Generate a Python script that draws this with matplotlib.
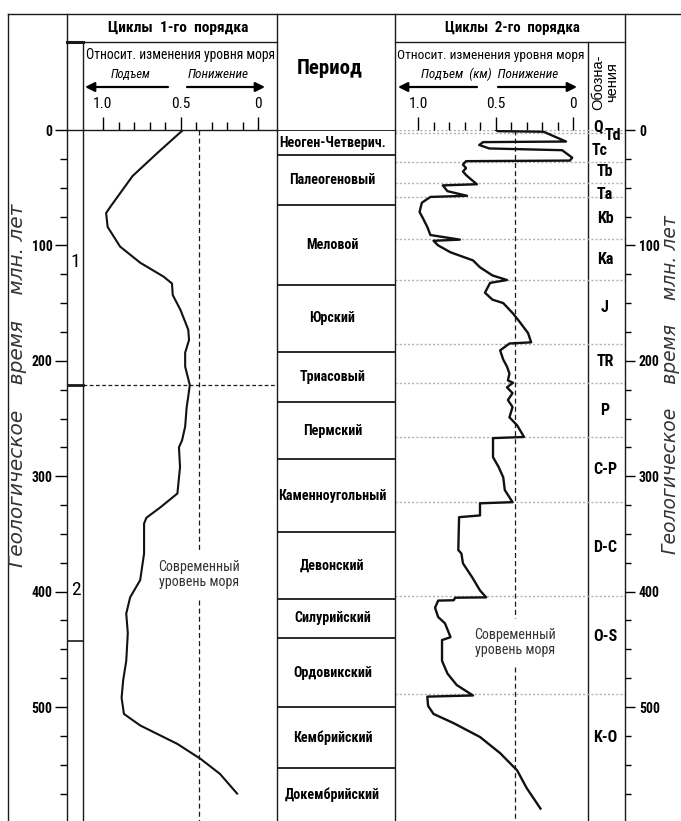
import matplotlib
matplotlib.use("Agg")
import matplotlib.pyplot as plt
import numpy as np

plt.rcParams['font.family'] = ['Roboto Condensed', 'DejaVu Sans']

# ---- data ----
# cycles of the 1st order: age (Ma) and relative sea level change
age_1 = [0, 20, 40, 67, 72, 84, 101, 115, 127, 133, 143, 156, 173, 182, 193, 205,
         221, 231, 240, 257, 269, 275, 292, 315, 327, 336, 341, 367, 390, 405, 419,
         436, 460, 477, 492, 506, 516, 532, 545, 558, 575]
level_1 = [0.484, 0.65, 0.81, 0.955, 0.98, 0.97, 0.89, 0.76, 0.61, 0.555, 0.55, 0.50,
           0.45, 0.445, 0.47, 0.47, 0.44, 0.45, 0.46, 0.47, 0.49, 0.51, 0.503, 0.52,
           0.63, 0.72, 0.735, 0.735, 0.76, 0.825, 0.85, 0.84, 0.85, 0.87, 0.88, 0.865,
           0.76, 0.52, 0.37, 0.245, 0.135]

# cycles of the 2nd order
age_2 = [0, 1, 1.5, 10, 10.5, 13, 16, 17.5, 24, 26.5, 27, 30, 33, 36, 39, 42, 47, 48,
         53, 57, 58, 63, 71, 76, 84, 91, 95, 96, 100, 106, 113, 119, 126, 130, 132.5,
         141, 147, 150, 159, 167, 176, 184, 185, 191, 199, 205, 211, 217, 219, 223,
         228, 234, 240, 249, 256, 266, 267, 283.5, 292, 301, 312, 322.5, 323.5, 334,
         335.5, 364, 367, 375.5, 387.7, 399, 405, 405.3, 407.5, 407.8, 414, 422, 427.5,
         439.5, 442, 460, 471, 481, 490, 491, 499, 506, 514, 526, 540, 555, 570, 588]
level_2 = [0.497, 0.485, 0.19, 0.045, 0.58, 0.605, 0.54, 0.07, 0.005, 0.02, 0.69, 0.71,
           0.69, 0.71, 0.69, 0.665, 0.62, 0.84, 0.81, 0.684, 0.92, 0.975, 0.99, 0.97,
           0.94, 0.92, 0.73, 0.90, 0.87, 0.79, 0.645, 0.60, 0.52, 0.426, 0.535, 0.568,
           0.52, 0.45, 0.387, 0.34, 0.29, 0.27, 0.41, 0.47, 0.45, 0.426, 0.41, 0.42,
           0.387, 0.426, 0.39, 0.42, 0.39, 0.41, 0.36, 0.316, 0.516, 0.516, 0.48, 0.45,
           0.44, 0.39, 0.60, 0.60, 0.735, 0.74, 0.72, 0.71, 0.65, 0.60, 0.56, 0.76,
           0.77, 0.87, 0.89, 0.87, 0.826, 0.79, 0.845, 0.845, 0.81, 0.75, 0.645, 0.94,
           0.935, 0.90, 0.77, 0.60, 0.47, 0.36, 0.30, 0.21]

periods = ["Неоген-Четверич.", "Палеогеновый", "Меловой", "Юрский", "Триасовый",
           "Пермский", "Каменноугольный", "Девонский", "Силурийский", "Ордовикский",
           "Кембрийский", "Докембрийский"]
period_bounds = [0, 21.7, 65, 134, 192.5, 236, 285, 348.6, 406, 440.6, 500, 553]

seq_codes = ["Q", "Td", "Tc", "Tb", "Ta", "Kb", "Ka", "J", "TR", "P", "C-P", "D-C", "O-S", "K-O"]
seq_code_age = [-2.6, 5, 18, 36, 55.5, 77, 112, 153.6, 201, 243, 294.6, 362, 438.5, 526]
seq_bounds = [0, 3, 27.8, 46, 58, 94.5, 130, 185.6, 219, 266, 322.6, 404, 489]

cycle1_names = ["1", "2"]
cycle1_name_age = [114, 398.6]
cycle1_bounds = [221, 443]

modern_level_1 = 0.38
modern_level_2 = 0.375

# ---- layout (pixels) ----
W, H = 681, 821
PX_MA = 1.154
T_BOT = (H - 130) / PX_MA


def rect(x0, y0, x1, y1):
    return [x0 / W, 1 - y1 / H, (x1 - x0) / W, (y1 - y0) / H]


def v1(x):
    return (258 - x) / 155.0


def v2(x):
    return (573 - x) / 155.0


fig = plt.figure(figsize=(W / 100, H / 100), dpi=100)
renderer = fig.canvas.get_renderer()


def fit(t, width_px, max_pt=30, vertical=False):
    bb = t.get_window_extent(renderer)
    w = bb.height if vertical else bb.width
    t.set_fontsize(min(max_pt, t.get_fontsize() * width_px / w))
    return t.get_fontsize()


frame = fig.add_axes([0, 0, 1, 1])
frame.set_xlim(0, W)
frame.set_ylim(H, 0)
frame.axis('off')

lc = '#1a1a1a'
frame_lines = [((8, 681), (14, 14)), ((8, 8), (14, H)), ((67, 67), (14, 130)),
               ((83, 83), (42, H)), ((67, 277), (42, 42)), ((277, 277), (14, 130)),
               ((395, 395), (14, 130)), ((395, 625), (42, 42)), ((588, 588), (42, H)),
               ((625, 625), (14, 130))]
for xs, ys in frame_lines:
    frame.plot(xs, ys, color=lc, lw=1.0)
frame.plot([67, 83], [42, 42], color=lc, lw=2.2)

# headers
fit(frame.text(178, 28, "Циклы  1-го  порядка", ha='center', va='center', fontsize=11, fontweight='bold'), 140, 12)
fit(frame.text(512, 28, "Циклы  2-го  порядка", ha='center', va='center', fontsize=11, fontweight='bold'), 135, 12)
fit(frame.text(330, 69, "Период", ha='center', va='center', fontsize=14, fontweight='bold'), 66, 15)
fit(frame.text(180, 55, "Относит. изменения уровня моря", ha='center', va='center', fontsize=11), 191, 12)
fit(frame.text(491, 55, "Относит. изменения уровня моря", ha='center', va='center', fontsize=11), 187, 12)
fit(frame.text(131, 74, "Подъем", ha='center', va='center', fontsize=9.5, style='italic'), 40, 10.5)
fit(frame.text(218, 74, "Понижение", ha='center', va='center', fontsize=9.5, style='italic'), 61, 10.5)
fit(frame.text(490, 74, "Подъем  (км)  Понижение", ha='center', va='center', fontsize=9.5, style='italic'), 137, 10.5)
fit(frame.text(605, 82, "Обозна-\nчения", ha='center', va='center', fontsize=10, rotation=90,
               family=['Liberation Sans', 'DejaVu Sans'], linespacing=0.95), 78, 10.5, vertical=True)

arrows = [((168, 87), (85, 87)), ((187, 87), (265, 87)),
          ((477, 87), (398, 87)), ((498, 87), (577, 87))]
for start, end in arrows:
    frame.annotate('', xy=end, xytext=start,
                   arrowprops=dict(arrowstyle='-|>', color='k', lw=1.6,
                                   mutation_scale=14, shrinkA=0, shrinkB=0))

for x, mx in ((18, 14.5), (671, 13.5)):
    fit(frame.text(x, 385, "Геологическое    время    млн. лет", rotation=90, ha='center', va='center',
                   fontsize=12.5, style='italic', color='#333333', family=['DejaVu Sans']),
        388, max_pt=mx, vertical=True)

# font sizes for tick labels and period names, fitted on sample strings
p = frame.text(0, 0, "100", fontsize=10, fontweight='bold')
tick_pt = fit(p, 21, 12.5)
p.remove()
p = frame.text(0, 0, "1.0", fontsize=10)
top_pt = fit(p, 19, 12.5)
p.remove()
p = frame.text(0, 0, "Каменноугольный", fontsize=10, fontweight='bold')
per_pt = fit(p, 108, 11.5)
p.remove()
p = frame.text(0, 0, "C-P", fontsize=10, fontweight='bold')
code_pt = fit(p, 24, 12.5)
p.remove()
p = frame.text(0, 0, "Современный", fontsize=10)
sea_pt = fit(p, 82, 12)
p.remove()

# ---- left panel: 1st order cycles ----
axL = fig.add_axes(rect(67, 130, 277, H))
axL.patch.set_alpha(0)
axL.set_xlim(v1(67), v1(277))
axL.set_ylim(T_BOT, 0)
axL.spines['bottom'].set_visible(False)
for s in axL.spines.values():
    s.set_linewidth(1.0)
    s.set_color(lc)
axL.plot(level_1, age_1, color='#111111', lw=1.5)
axL.set_yticks(np.arange(0, 501, 100), [str(t) for t in range(0, 501, 100)],
               fontweight='bold', fontsize=tick_pt)
axL.set_yticks(np.arange(0, 600, 25), minor=True)
axL.tick_params(axis='y', which='major', direction='out', length=8.5, width=1.0, pad=2)
axL.tick_params(axis='y', which='minor', direction='out', length=5, width=1.0)
axL.xaxis.tick_top()
axL.set_xticks([1.0, 0.5, 0.0], ["1.0", "0.5", "0"], fontsize=top_pt)
axL.set_xticks(np.arange(0, 1.01, 0.1), minor=True)
axL.tick_params(axis='x', which='major', direction='out', length=9.5, width=1.0, pad=4)
axL.tick_params(axis='x', which='minor', direction='out', length=5.8, width=1.0)

# modern sea level
axL.plot([modern_level_1] * 2, [0, 364], color=lc, lw=0.9, ls=(0, (4, 2.5)))
axL.plot([modern_level_1] * 2, [407, T_BOT], color=lc, lw=0.9, ls=(0, (4, 2.5)))
axL.text(modern_level_1, 385, "Современный\nуровень моря", ha='center', va='center',
         fontsize=sea_pt, color='#333333', linespacing=1.1)

# boundaries of 1st order cycles
axL.plot([v1(67), v1(83)], [cycle1_bounds[0]] * 2, color=lc, lw=2)
axL.plot([v1(83), v1(277)], [cycle1_bounds[0]] * 2, color=lc, lw=0.9, ls=(0, (3, 2)))
axL.plot([v1(67), v1(83)], [cycle1_bounds[1]] * 2, color=lc, lw=1.2)
for name, t in zip(cycle1_names, cycle1_name_age):
    axL.text(v1(75.5), t, name, ha='center', va='center', fontsize=14)

# ---- middle: periods ----
axM = fig.add_axes(rect(277, 130, 395, H))
axM.patch.set_alpha(0)
axM.set_xlim(0, 1)
axM.set_ylim(T_BOT, 0)
axM.set_xticks([])
axM.set_yticks([])
for s in axM.spines.values():
    s.set_visible(False)
for b in period_bounds:
    axM.axhline(b, color=lc, lw=1.3)
mids = [(a + b) / 2 for a, b in zip(period_bounds, period_bounds[1:] + [T_BOT])]
for name, m in zip(periods, mids):
    axM.text(0.47, m, name, ha='center', va='center', fontsize=per_pt, fontweight='bold')

# ---- right panel: 2nd order cycles ----
axR = fig.add_axes(rect(395, 130, 625, H))
axR.patch.set_alpha(0)
axR.set_xlim(v2(395), v2(625))
axR.set_ylim(T_BOT, 0)
axR.spines['top'].set_visible(False)
axR.spines['bottom'].set_visible(False)
for s in axR.spines.values():
    s.set_linewidth(1.0)
    s.set_color(lc)
for b in seq_bounds:
    axR.axhline(b, color='#b0b0b0', lw=1.0, ls=(0, (1.5, 1.5)), zorder=1)
axR.plot(level_2, age_2, color='#111111', lw=1.7, zorder=3)
axR.plot([modern_level_2] * 2, [0, 423], color=lc, lw=0.9, ls=(0, (4, 2.5)), zorder=2)
axR.plot([modern_level_2] * 2, [465, T_BOT], color=lc, lw=0.9, ls=(0, (4, 2.5)), zorder=2)
axR.text(modern_level_2, 444, "Современный\nуровень моря", ha='center', va='center',
         fontsize=sea_pt, color='#333333', linespacing=1.1)

axR.yaxis.tick_right()
axR.set_yticks(np.arange(0, 501, 100), [str(t) for t in range(0, 501, 100)],
               fontweight='bold', fontsize=tick_pt)
axR.set_yticks(np.arange(0, 600, 25), minor=True)
axR.tick_params(axis='y', which='major', direction='out', length=7.5, width=1.0, pad=2.5)
axR.tick_params(axis='y', which='minor', direction='out', length=4, width=1.0)
axR.xaxis.tick_top()
axR.set_xticks([1.0, 0.5, 0.0], ["1.0", "0.5", "0"], fontsize=top_pt)
axR.set_xticks(np.arange(0, 1.01, 0.1), minor=True)
axR.tick_params(axis='x', which='major', direction='out', length=9.5, width=1.0, pad=4)
axR.tick_params(axis='x', which='minor', direction='out', length=5.8, width=1.0)

code_x = [598, 613, 600] + [605] * 11
for code, t, x in zip(seq_codes, seq_code_age, code_x):
    axR.text(v2(x), t, code, ha='center', va='center', fontsize=code_pt, fontweight='bold',
             clip_on=False)

fig.savefig("out.png", dpi=100)
